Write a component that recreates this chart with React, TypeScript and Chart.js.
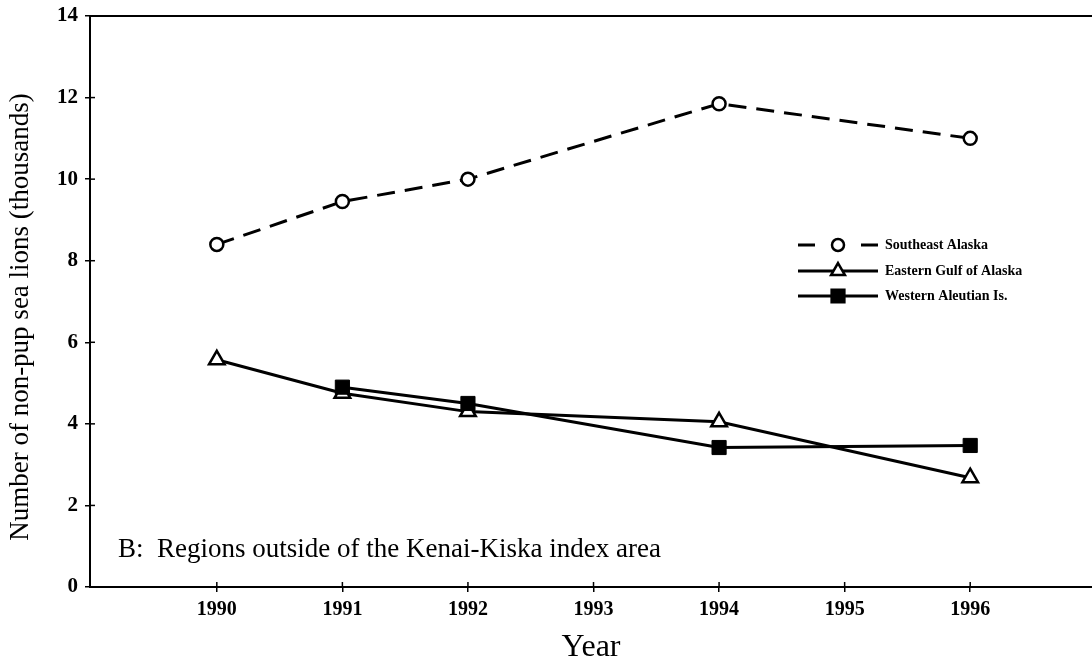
import React, { useEffect, useRef } from 'react';
import { Chart, registerables } from 'chart.js';

Chart.register(...registerables);

const seYears = [1990, 1991, 1992, 1994, 1996];
const seValues = [8.4, 9.45, 10.0, 11.85, 11.0];
const egYears = [1990, 1991, 1992, 1994, 1996];
const egValues = [5.57, 4.75, 4.3, 4.05, 2.68];
const waYears = [1991, 1992, 1994, 1996];
const waValues = [4.9, 4.5, 3.42, 3.47];
const xTickYears = [1990, 1991, 1992, 1993, 1994, 1995, 1996];
const seriesLabels = ['Southeast Alaska', 'Eastern Gulf of Alaska', 'Western Aleutian Is.'];
const yTitle = 'Number of non-pup sea lions (thousands)';
const xTitle = 'Year';
const panelNote = 'B:  Regions outside of the Kenai-Kiska index area';

const SERIF = '"Liberation Serif", "Times New Roman", serif';

function pts(xs: number[], ys: number[]) {
  return xs.map((x, i) => ({ x, y: ys[i] }));
}

function drawMarker(ctx: CanvasRenderingContext2D, style: string, x: number, y: number, r: number, fill: string, bw: number) {
  ctx.save();
  ctx.setLineDash([]);
  ctx.fillStyle = fill;
  ctx.strokeStyle = '#000';
  ctx.lineWidth = bw;
  ctx.beginPath();
  if (style === 'circle') {
    ctx.arc(x, y, r, 0, Math.PI * 2);
  } else if (style === 'triangle') {
    ctx.moveTo(x, y - r);
    ctx.lineTo(x + r * 0.866, y + r / 2);
    ctx.lineTo(x - r * 0.866, y + r / 2);
    ctx.closePath();
  } else {
    const s = r * Math.SQRT1_2;
    ctx.rect(x - s, y - s, 2 * s, 2 * s);
  }
  ctx.fill();
  ctx.stroke();
  ctx.restore();
}

const decorPlugin = {
  id: 'decor',
  afterDraw(chart: any) {
    const { ctx, chartArea, scales } = chart;
    ctx.save();
    // top frame line
    ctx.strokeStyle = '#000';
    ctx.lineWidth = 2;
    ctx.beginPath();
    ctx.moveTo(chartArea.left, chartArea.top);
    ctx.lineTo(chart.width, chartArea.top);
    ctx.stroke();
    // inner tick stubs (ticks cross the axes)
    ctx.lineWidth = 1.5;
    scales.x.ticks.forEach((t: any) => {
      const px = scales.x.getPixelForValue(t.value);
      ctx.beginPath();
      ctx.moveTo(px, chartArea.bottom);
      ctx.lineTo(px, chartArea.bottom - 5);
      ctx.stroke();
    });
    scales.y.ticks.forEach((t: any) => {
      const py = scales.y.getPixelForValue(t.value);
      ctx.beginPath();
      ctx.moveTo(chartArea.left, py);
      ctx.lineTo(chartArea.left + 5, py);
      ctx.stroke();
    });
    // y title
    ctx.fillStyle = '#000';
    ctx.font = `27px ${SERIF}`;
    ctx.textAlign = 'center';
    ctx.textBaseline = 'middle';
    ctx.translate(21, 317);
    ctx.rotate(-Math.PI / 2);
    ctx.fillText(yTitle, 0, 0);
    ctx.restore();

    // panel note
    ctx.save();
    ctx.fillStyle = '#000';
    ctx.font = `27px ${SERIF}`;
    ctx.textAlign = 'left';
    ctx.textBaseline = 'alphabetic';
    ctx.fillText(panelNote, 118, 557);
    ctx.restore();

    // legend
    const rows = [245, 271, 296];
    const x0 = 798, x1 = 878, xm = 838;
    chart.data.datasets.forEach((ds: any, i: number) => {
      const y = rows[i];
      ctx.save();
      ctx.strokeStyle = '#000';
      ctx.lineWidth = 3;
      ctx.beginPath();
      if (ds.borderDash && ds.borderDash.length) {
        ctx.moveTo(x0, y); ctx.lineTo(x0 + 17, y);
        ctx.moveTo(x1 - 17, y); ctx.lineTo(x1, y);
      } else {
        ctx.moveTo(x0, y); ctx.lineTo(x1, y);
      }
      ctx.stroke();
      ctx.restore();
      drawMarker(ctx, ds.pointStyle, xm, y, ds.pointStyle === 'circle' ? 6 : ds.pointStyle === 'triangle' ? 8 : 9, ds.pointBackgroundColor, 2.5);
      ctx.save();
      ctx.fillStyle = '#000';
      ctx.font = `bold 14px ${SERIF}`;
      ctx.textAlign = 'left';
      ctx.textBaseline = 'middle';
      ctx.fillText(ds.label, 885, y);
      ctx.restore();
    });
  },
};

export default function App() {
  const ref = useRef<HTMLCanvasElement | null>(null);
  useEffect(() => {
    if (!ref.current) return;
    const chart = new Chart(ref.current, {
      type: 'line',
      data: {
        datasets: [
          {
            label: seriesLabels[0],
            data: pts(seYears, seValues),
            borderColor: '#000',
            borderWidth: 3,
            borderDash: [18, 10],
            pointStyle: 'circle',
            pointRadius: 6.5,
            pointBackgroundColor: '#fff',
            pointBorderColor: '#000',
            pointBorderWidth: 2.5,
            order: 2,
          },
          {
            label: seriesLabels[1],
            data: pts(egYears, egValues),
            borderColor: '#000',
            borderWidth: 3,
            pointStyle: 'triangle',
            pointRadius: 9,
            pointBackgroundColor: '#fff',
            pointBorderColor: '#000',
            pointBorderWidth: 2.5,
            order: 1,
          },
          {
            label: seriesLabels[2],
            data: pts(waYears, waValues),
            borderColor: '#000',
            borderWidth: 3,
            pointStyle: 'rect',
            pointRadius: 10,
            pointBackgroundColor: '#000',
            pointBorderColor: '#000',
            pointBorderWidth: 1,
            order: 0,
          },
        ] as any,
      },
      options: {
        animation: false,
        responsive: false,
        layout: { autoPadding: false, padding: { top: 16, right: 0, left: 0, bottom: 0 } },
        plugins: { legend: { display: false }, tooltip: { enabled: false } },
        elements: { line: { tension: 0 } },
        scales: {
          x: {
            type: 'linear',
            min: 1988.99,
            max: 1996.97,
            afterBuildTicks: (scale: any) => {
              scale.ticks = xTickYears.map((v) => ({ value: v }));
            },
            afterFit: (scale: any) => {
              scale.height = 82;
              scale.paddingLeft = 0;
              scale.paddingRight = 0;
            },
            ticks: {
              color: '#000',
              font: { family: SERIF, size: 20, weight: 'bold' },
              padding: 6,
              maxRotation: 0,
              callback: (v: any) => String(v),
            },
            grid: { drawOnChartArea: false, drawTicks: true, tickLength: 5, color: '#000', lineWidth: 1.5 },
            border: { display: true, color: '#000', width: 2 },
            title: {
              display: true,
              text: xTitle,
              color: '#000',
              font: { family: SERIF, size: 32 },
              padding: { top: 0, bottom: 2 },
            },
          },
          y: {
            type: 'linear',
            min: 0,
            max: 14,
            afterFit: (scale: any) => {
              scale.width = 90;
              scale.paddingTop = 0;
              scale.paddingBottom = 0;
            },
            ticks: {
              stepSize: 2,
              color: '#000',
              font: { family: SERIF, size: 21, weight: 'bold' },
              padding: 7,
            },
            grid: { drawOnChartArea: false, drawTicks: true, tickLength: 5, color: '#000', lineWidth: 1.5 },
            border: { display: true, color: '#000', width: 2 },
          },
        },
      } as any,
      plugins: [decorPlugin],
    });
    return () => chart.destroy();
  }, []);
  return (
    <div style={{ position: 'fixed', left: 0, top: 0, width: 1092, height: 669, background: '#fff' }}>
      <canvas ref={ref} width={1092} height={669} style={{ display: 'block' }} />
    </div>
  );
}
